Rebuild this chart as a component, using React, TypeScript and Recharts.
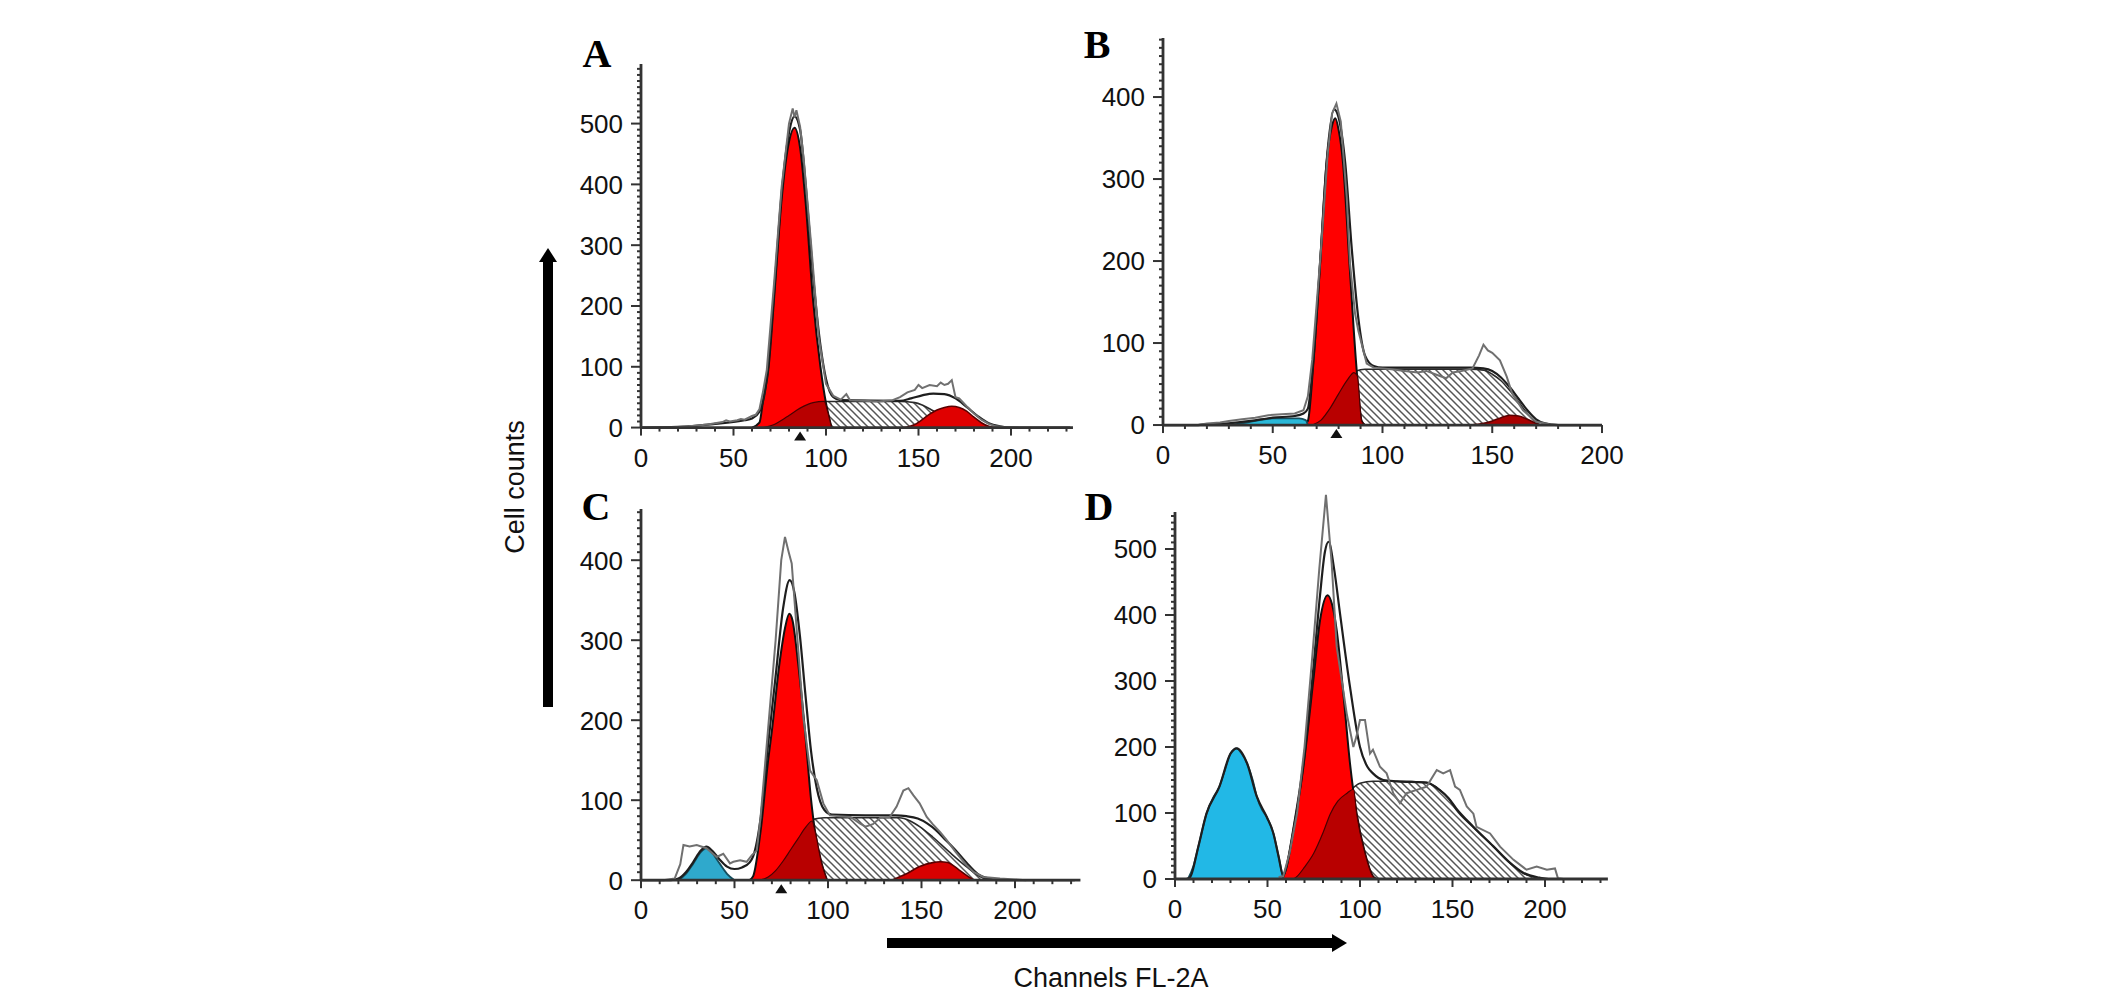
import React from 'react';
import { ComposedChart, Area, Line, XAxis, YAxis, ReferenceLine, ReferenceDot } from 'recharts';

type Pt = [number, number];

const SANS = '"Liberation Sans", Arial, Helvetica, sans-serif';
const SERIF = '"Liberation Serif", "Times New Roman", serif';
const AXIS = '#333';

const X_LABELS = [0, 50, 100, 150, 200];

// ---- Panel A ----
const A_Y_LABELS = [0, 100, 200, 300, 400, 500];
const A_G1: Pt[] = [[60, 0], [64, 8], [66, 45], [69, 100], [72, 215], [76, 375], [80, 470], [83, 493], [86, 460], [89, 370], [93, 210], [97, 100], [100, 40], [103, 0]];
const A_S: Pt[] = [[66, 0], [72, 5], [76, 12], [80, 20], [86, 32], [93, 41], [100, 43], [120, 43], [140, 43], [148, 41], [152, 37], [156, 31], [160, 24], [164, 17], [168, 11], [172, 7], [176, 4], [180, 2], [186, 0]];
const A_OVERLAP: Pt[] = [[66, 0], [72, 5], [76, 12], [80, 20], [86, 32], [93, 41], [99, 43], [101, 25], [103, 0]];
const A_G2: Pt[] = [[142, 0], [144, 1], [148, 5], [152, 13], [156, 22], [160, 29], [164, 33], [168, 35], [172, 33], [176, 27], [180, 17], [184, 8], [188, 2], [192, 0]];
const A_FIT: Pt[] = [[0, 0], [20, 1], [40, 6], [56, 12], [60, 15], [64, 26], [68, 80], [72, 225], [76, 385], [80, 485], [83, 512], [86, 490], [89, 400], [93, 250], [97, 135], [100, 80], [104, 50], [108, 45], [140, 44], [146, 48], [152, 53], [158, 56], [164, 55], [170, 48], [176, 34], [182, 19], [188, 7], [194, 2], [200, 0], [232, 0]];
const A_RAW: Pt[] = [[0, 0], [16, 0], [20, 1], [26, 2], [32, 4], [36, 5], [40, 7], [44, 9], [46, 12], [48, 10], [52, 12], [54, 14], [56, 13], [60, 19], [62, 21], [64, 30], [66, 60], [68, 95], [72, 240], [76, 395], [80, 500], [82, 525], [83, 510], [84, 522], [86, 495], [88, 440], [92, 300], [96, 150], [100, 72], [104, 52], [108, 46], [111, 55], [113, 45], [120, 44], [128, 43], [136, 45], [140, 50], [144, 58], [148, 62], [150, 70], [152, 65], [156, 70], [160, 68], [162, 74], [164, 70], [166, 72], [168, 78], [170, 50], [172, 48], [176, 35], [180, 23], [184, 13], [188, 6], [192, 2], [196, 1], [204, 0]];

// ---- Panel B ----
const B_Y_LABELS = [0, 100, 200, 300, 400];
const B_CYAN: Pt[] = [[30, 0], [38, 3], [44, 6], [50, 8], [56, 8], [62, 8], [65, 6], [66, 0]];
const B_G1: Pt[] = [[64, 0], [66, 5], [68.5, 75], [71.5, 195], [74.5, 320], [77, 365], [78.5, 374], [80, 360], [82, 320], [85, 195], [88, 75], [90.5, 5], [92, 0]];
const B_S: Pt[] = [[68, 0], [72, 6], [76, 20], [80, 38], [84, 55], [88, 66], [92, 68], [100, 68], [120, 68], [140, 68], [146, 67], [150, 62], [154, 54], [158, 42], [162, 28], [166, 14], [170, 3], [172, 0]];
const B_OVERLAP: Pt[] = [[68, 0], [72, 6], [76, 20], [80, 38], [84, 55], [87, 64], [88.5, 60], [90.5, 5], [92, 0]];
const B_G2: Pt[] = [[140, 0], [146, 2], [150, 5], [154, 9], [158, 12], [162, 11], [166, 7], [170, 2], [172, 0]];
const B_FIT: Pt[] = [[0, 0], [16, 0], [20, 1], [30, 2], [40, 5], [50, 9], [60, 11], [64, 14], [66, 20], [68.5, 80], [72, 215], [75, 335], [78, 385], [80, 375], [83, 320], [86, 215], [89, 130], [92, 85], [96, 72], [100, 70], [140, 70], [146, 69], [150, 66], [154, 58], [158, 46], [162, 32], [166, 18], [170, 7], [174, 2], [180, 0], [200, 0]];
const B_RAW: Pt[] = [[0, 0], [16, 0], [20, 2], [26, 3], [30, 5], [36, 7], [42, 9], [48, 12], [54, 13], [60, 14], [64, 18], [66, 35], [68, 80], [72, 215], [75, 330], [77, 380], [79, 392], [81, 370], [83.7, 278], [85.2, 197], [87.5, 136], [89, 115], [92.8, 75], [96, 70], [104, 68], [110, 66], [116, 64], [120, 66], [124, 62], [129, 57], [132, 64], [136, 66], [141, 69], [144, 85], [146, 98], [148, 91], [150, 88], [153.5, 79], [156.6, 59], [159, 39], [164, 18], [170, 4], [176, 1], [180, 0], [200, 0]];

// ---- Panel C ----
const C_Y_LABELS = [0, 100, 200, 300, 400];
const C_CYAN: Pt[] = [[20, 0], [24, 8], [28, 21], [32, 35], [35, 40], [38, 34], [42, 21], [46, 8], [50, 0]];
const C_G1: Pt[] = [[58, 0], [60, 5], [64, 62], [68, 150], [70, 187], [74, 270], [77, 315], [79.3, 333], [81, 325], [84, 272], [87.7, 187], [90.8, 104], [93, 62], [96.6, 21], [99.5, 0]];
const C_S: Pt[] = [[64, 0], [68, 4], [72, 12], [76, 24], [80, 38], [84, 52], [88, 66], [92, 76], [98, 78], [120, 78], [138, 78], [144, 74], [149, 67], [156, 54], [165, 35], [174, 17], [181, 5], [186, 0]];
const C_OVERLAP: Pt[] = [[64, 0], [68, 4], [72, 12], [76, 24], [80, 38], [84, 52], [88, 66], [91.5, 74], [93, 62], [96.6, 21], [99.5, 0]];
const C_G2: Pt[] = [[134, 0], [142, 8], [149, 17], [156, 22], [160, 23], [164, 22], [170, 13], [176, 3], [178, 0]];
const C_FIT: Pt[] = [[0, 0], [16, 0], [20, 2], [24, 10], [28, 23], [32, 37], [35, 42], [38, 37], [42, 26], [46, 17], [50, 14], [54, 16], [58, 22], [60, 30], [64, 78], [68, 170], [72, 255], [76, 340], [79.5, 375], [82, 360], [85, 305], [88, 230], [91, 160], [94, 115], [98, 88], [102, 82], [120, 81], [136, 81], [142, 80], [148, 77], [153, 71], [158, 62], [163, 50], [168, 38], [174, 22], [180, 8], [186, 2], [192, 0], [232, 0]];
const C_RAW: Pt[] = [[0, 0], [12, 0], [18, 2], [21, 20], [22.7, 44], [26, 42], [29.8, 44], [35, 40], [40.5, 29], [44, 33], [47.6, 21], [49.4, 23], [53, 25], [56.5, 23], [59.2, 31], [61.9, 37], [64, 80], [68, 190], [72, 300], [75, 400], [77, 429], [79, 410], [80.6, 396], [83.3, 312], [86.8, 204], [90.4, 137], [94, 125], [97.5, 96], [101, 81], [106, 80], [112, 79], [117, 71], [120, 67], [124, 70], [128, 78], [133, 79], [136.7, 92], [140.3, 112], [143, 115], [145.7, 106], [149, 96], [152.8, 79], [156, 70], [160, 60], [163.5, 50], [168, 36], [174, 19], [178, 10], [183, 4], [192, 2], [200, 1], [206, 0]];

// ---- Panel D ----
const D_Y_LABELS = [0, 100, 200, 300, 400, 500];
const D_CYAN: Pt[] = [[7, 0], [10, 20], [12.6, 49], [17, 99], [21, 125], [24, 140], [27, 165], [30, 190], [33.4, 198], [36, 190], [39, 175], [42, 150], [44.2, 125], [47, 105], [49.6, 94], [53.2, 69], [56, 34], [58.5, 0]];
const D_G1: Pt[] = [[58, 0], [60, 15], [64, 74], [69.4, 170], [74.8, 302], [78.4, 392], [82.5, 430], [85, 415], [87.4, 377], [91, 281], [94.6, 175], [98.2, 99], [102.7, 39], [107, 4], [109, 0]];
const D_S: Pt[] = [[64, 0], [66, 4], [70, 18], [75, 39], [80, 70], [84, 99], [88, 118], [93, 130], [100, 145], [107, 148], [120, 148], [136, 146], [143, 135], [148, 122], [152, 105], [161, 79], [172, 49], [181, 24], [188, 9], [197, 1], [200, 0]];
const D_OVERLAP: Pt[] = [[64, 0], [66, 4], [70, 18], [75, 39], [80, 70], [84, 99], [88, 118], [93, 130], [96.5, 136], [98.2, 99], [102.7, 39], [107, 4], [109, 0]];
const D_FIT: Pt[] = [[0, 0], [6, 0], [8, 2], [12.6, 49], [17, 99], [24, 140], [30, 190], [33.4, 198], [39, 175], [44.2, 125], [49.6, 94], [53.2, 69], [56, 34], [58.5, 5], [60, 16], [64, 76], [69.4, 175], [74.8, 320], [78.4, 430], [81, 495], [83, 511], [86, 470], [89.2, 402], [94.6, 291], [100, 200], [104, 170], [107, 160], [112.6, 150], [120, 148], [136, 146], [143, 135], [148, 122], [152, 107], [161, 80], [172, 50], [181, 25], [188, 10], [197, 2], [202, 0], [232, 0]];
const D_RAW: Pt[] = [[56, 3], [58.5, 4], [62, 40], [66, 100], [70, 200], [74, 330], [78, 470], [81.6, 582], [84.7, 478], [87.4, 352], [92.8, 251], [96.4, 200], [98, 215], [100, 241], [102.7, 241], [105.4, 190], [107, 196], [110.8, 170], [114.4, 160], [118, 130], [121.6, 115], [125.2, 130], [130.7, 135], [136, 140], [141.5, 165], [145, 160], [148.7, 165], [151.4, 140], [154, 135], [157.7, 110], [161.3, 99], [163, 79], [170.3, 69], [175.7, 49], [183, 29], [190, 14], [195.5, 19], [201, 14], [205.4, 16], [207, 1], [210, 0]];

// chart frame around the plot area
const YW = 90;
const XH = 50;
const MT = 10;
const MR = 40;

function tens(max: number) {
  const out: number[] = [];
  for (let v = 0; v <= max; v += 10) out.push(v);
  return out;
}

function buildRows(series: Record<string, Pt[]>) {
  const map = new Map<number, any>();
  Object.entries(series).forEach(([key, pts]) => {
    pts.forEach(([x, y]) => {
      const row = map.get(x) ?? { x };
      row[key] = y;
      map.set(x, row);
    });
  });
  return [...map.values()].sort((a, b) => a.x - b.x);
}

function XTick({ x, y, payload }: any) {
  const v = payload.value;
  const major = X_LABELS.includes(v);
  return (
    <g>
      <line x1={x} x2={x} y1={y} y2={y + (major ? 8 : 4)} stroke={AXIS} strokeWidth={2} />
      {major && (
        <text x={x} y={y + 39} textAnchor="middle" fontSize={26} fontFamily={SANS} fill="#111">{v}</text>
      )}
    </g>
  );
}

function YTick({ x, y, payload, labels }: any) {
  const v = payload.value;
  const major = labels.includes(v);
  return (
    <g>
      <line x1={x - (major ? 10 : 4)} x2={x} y1={y} y2={y} stroke={AXIS} strokeWidth={2} />
      {major && (
        <text x={x - 18} y={y} dy="0.36em" textAnchor="end" fontSize={26} fontFamily={SANS} fill="#111">{v}</text>
      )}
    </g>
  );
}

const Marker = ({ cx, cy }: any) => (
  <polygon points={`${cx},${cy + 4} ${cx - 6},${cy + 13} ${cx + 6},${cy + 13}`} fill="#111" />
);

interface PanelProps {
  x0: number; y0: number; xPx: number; yPx: number;
  xMax: number; yTop: number; yMax: number;
  yLabels: number[];
  raw: Pt[]; fit: Pt[]; g1: Pt[]; s: Pt[]; overlap: Pt[];
  g2?: Pt[]; cyan?: Pt[];
  g2Color?: string; cyanColor?: string; marker?: number;
}

function Panel(p: PanelProps) {
  const rows = buildRows({ raw: p.raw, fit: p.fit, g1: p.g1, s: p.s, ov: p.overlap, g2: p.g2 ?? [], cy: p.cyan ?? [] });
  const plotW = p.xMax * p.xPx;
  const plotH = p.yMax * p.yPx;
  return (
    <div style={{ position: 'absolute', left: p.x0 - YW, top: p.y0 - plotH - MT }}>
      <ComposedChart width={plotW + YW + MR} height={plotH + MT + XH} data={rows}
        margin={{ top: MT, right: MR, bottom: 0, left: 0 }}>
        <XAxis type="number" dataKey="x" domain={[0, p.xMax]} ticks={tens(p.xMax)} interval={0}
          tickSize={0} tickMargin={0} height={XH} tickLine={false}
          axisLine={{ stroke: AXIS, strokeWidth: 2.8 }} tick={(t: any) => <XTick {...t} />} />
        <YAxis type="number" domain={[0, p.yMax]} ticks={tens(p.yTop)} interval={0}
          tickSize={0} tickMargin={0} width={YW} tickLine={false} axisLine={false}
          tick={(t: any) => <YTick {...t} labels={p.yLabels} />} />
        <ReferenceLine segment={[{ x: 0, y: 0 }, { x: 0, y: p.yTop }]} stroke={AXIS} strokeWidth={2.8} />

        <Area type="monotone" dataKey="s" stroke="#2a2a2a" strokeWidth={1.6} fill="url(#hatch)" fillOpacity={1}
          connectNulls dot={false} activeDot={false} isAnimationActive={false} />
        {p.g2 && (
          <Area type="monotone" dataKey="g2" stroke="#5a0000" strokeWidth={1.6} fill={p.g2Color} fillOpacity={1}
            connectNulls dot={false} activeDot={false} isAnimationActive={false} />
        )}
        <Area type="monotone" dataKey="g1" stroke="#111" strokeWidth={2} fill="#ff0000" fillOpacity={1}
          connectNulls dot={false} activeDot={false} isAnimationActive={false} />
        <Area type="monotone" dataKey="ov" stroke="#4a0000" strokeWidth={1.2} fill="#b80000" fillOpacity={1}
          connectNulls dot={false} activeDot={false} isAnimationActive={false} />
        {p.cyan && (
          <Area type="monotone" dataKey="cy" stroke="#164d5c" strokeWidth={1.8} fill={p.cyanColor} fillOpacity={1}
            connectNulls dot={false} activeDot={false} isAnimationActive={false} />
        )}
        <Line type="monotone" dataKey="fit" stroke="#1e1e1e" strokeWidth={2.2}
          connectNulls dot={false} activeDot={false} isAnimationActive={false} />
        <Line type="linear" dataKey="raw" stroke="#707070" strokeWidth={2}
          connectNulls dot={false} activeDot={false} isAnimationActive={false} />
        {p.marker !== undefined && <ReferenceDot x={p.marker} y={0} shape={<Marker />} />}
      </ComposedChart>
    </div>
  );
}

export default function App() {
  return (
    <div style={{ position: 'absolute', left: 0, top: 0, width: 2126, height: 994, background: '#fff', overflow: 'hidden' }}>
      <svg width={2126} height={994} style={{ position: 'absolute', left: 0, top: 0 }}>
        <defs>
          <pattern id="hatch" patternUnits="userSpaceOnUse" width={7} height={7}>
            <rect width={7} height={7} fill="#fff" />
            <path d="M0,0 L7,7 M-1,6 L1,8 M6,-1 L8,1" stroke="#555" strokeWidth={1.5} />
          </pattern>
        </defs>
        <g fontFamily={SERIF} fontWeight="bold" fontSize={40} fill="#000" textAnchor="middle">
          <text x={597} y={67}>A</text>
          <text x={1097} y={58}>B</text>
          <text x={596} y={520}>C</text>
          <text x={1099} y={520}>D</text>
        </g>
        <text transform="translate(524 487) rotate(-90)" textAnchor="middle" fontFamily={SANS} fontSize={27} fill="#111">
          Cell counts
        </text>
        <text x={1111} y={987} textAnchor="middle" fontFamily={SANS} fontSize={27} fill="#111">Channels FL-2A</text>
        <rect x={543} y={259} width={10} height={448} fill="#000" />
        <polygon points="548,248 539,262 557,262" fill="#000" />
        <rect x={887} y={938} width={446} height={10} fill="#000" />
        <polygon points="1347,943 1332,934 1332,952" fill="#000" />
      </svg>

      <Panel x0={641} y0={428} xPx={1.85} yPx={0.608} xMax={233.5} yTop={598} yMax={598}
        yLabels={A_Y_LABELS} raw={A_RAW} fit={A_FIT} g1={A_G1} s={A_S} overlap={A_OVERLAP}
        g2={A_G2} g2Color="#e00000" marker={86} />
      <Panel x0={1163} y0={425} xPx={2.195} yPx={0.82} xMax={200} yTop={472} yMax={472}
        yLabels={B_Y_LABELS} raw={B_RAW} fit={B_FIT} g1={B_G1} s={B_S} overlap={B_OVERLAP}
        g2={B_G2} g2Color="#a80000" cyan={B_CYAN} cyanColor="#2ab8d8" marker={79} />
      <Panel x0={641} y0={880} xPx={1.87} yPx={0.8} xMax={235} yTop={464} yMax={464}
        yLabels={C_Y_LABELS} raw={C_RAW} fit={C_FIT} g1={C_G1} s={C_S} overlap={C_OVERLAP}
        g2={C_G2} g2Color="#d80000" cyan={C_CYAN} cyanColor="#2fa9cc" marker={75} />
      <Panel x0={1175} y0={879} xPx={1.85} yPx={0.66} xMax={234} yTop={556} yMax={600}
        yLabels={D_Y_LABELS} raw={D_RAW} fit={D_FIT} g1={D_G1} s={D_S} overlap={D_OVERLAP}
        cyan={D_CYAN} cyanColor="#22b8e6" />
    </div>
  );
}
